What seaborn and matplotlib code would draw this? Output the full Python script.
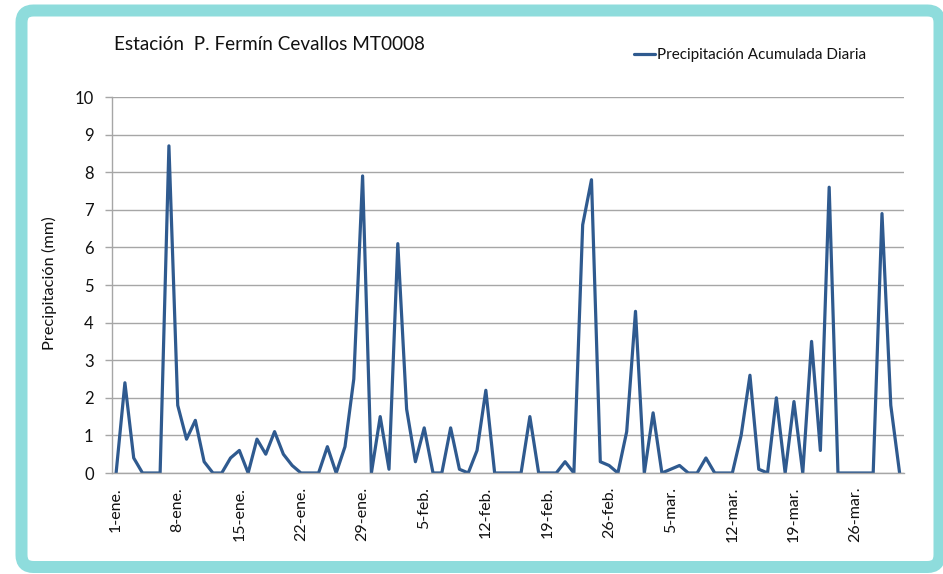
import matplotlib
matplotlib.use("Agg")
import matplotlib.pyplot as plt
from matplotlib.patches import FancyBboxPatch
import seaborn as sns
import pandas as pd
import numpy as np

# Daily accumulated precipitation (mm), 1-ene. to 31-mar. (90 days)
precip_jan = [0, 2.4, 0.4, 0, 0, 0, 8.7, 1.8, 0.9, 1.4,
              0.3, 0, 0, 0.4, 0.6, 0, 0.9, 0.5, 1.1, 0.5,
              0.2, 0, 0, 0, 0.7, 0, 0.7, 2.5, 7.9, 0, 1.5]
precip_feb = [0.1, 6.1, 1.7, 0.3, 1.2, 0, 0, 1.2, 0.1, 0,
              0.6, 2.2, 0, 0, 0, 0, 1.5, 0, 0, 0,
              0.3, 0, 6.6, 7.8, 0.3, 0.2, 0, 1.1]
precip_mar = [4.3, 0, 1.6, 0, 0.1, 0.2, 0, 0, 0.4, 0,
              0, 0, 1.0, 2.6, 0.1, 0, 2.0, 0, 1.9, 0,
              3.5, 0.6, 7.6, 0, 0, 0, 0, 0, 6.9, 1.8, 0]
tick_labels = ["1-ene.", "8-ene.", "15-ene.", "22-ene.", "29-ene.", "5-feb.",
               "12-feb.", "19-feb.", "26-feb.", "5-mar.", "12-mar.", "19-mar.", "26-mar."]
series_name = "Precipitación Acumulada Diaria"
title = "Estación  P. Fermín Cevallos MT0008"
ylabel = "Precipitación (mm)"

values = precip_jan + precip_feb + precip_mar
df = pd.DataFrame({"dia": np.arange(len(values)), "mm": values,
                   "serie": series_name})

sns.set_theme(style="white")
plt.rcParams["font.family"] = ["Lato", "DejaVu Sans"]

W, H = 943, 574
fig = plt.figure(figsize=(W / 100, H / 100), dpi=100)
fig.patch.set_facecolor("white")

left, right, top, bottom = 111.7, 904.0, 97.0, 473.0
ax = fig.add_axes([left / W, 1 - bottom / H, (right - left) / W, (bottom - top) / H])

line_color = "#2F5A8F"
grid_color = "#A6A6A6"
sns.lineplot(data=df, x="dia", y="mm", hue="serie", palette=[line_color],
             linewidth=2.3, ax=ax)

ax.set_xlim(-0.5, len(values) - 0.5)
ax.set_ylim(0, 10)
ax.set_yticks(range(0, 11))
ax.set_yticklabels([str(i) for i in range(0, 11)])
ax.yaxis.grid(True, color=grid_color, linewidth=1.0)
ax.xaxis.grid(False)
ax.set_axisbelow(True)

major = np.arange(0, len(values), 7)[:len(tick_labels)]
ax.set_xticks(major)
ax.set_xticklabels(tick_labels, rotation=90, va="top", ha="center")
ax.set_xticks(major - 0.5, minor=True)
ax.tick_params(axis="x", which="major", length=0, pad=10, labelsize=11.5, labelcolor="#111111")
ax.tick_params(axis="x", which="minor", length=5, width=1, color=grid_color, direction="out")
ax.tick_params(axis="y", which="major", length=5, width=1, color=grid_color,
               direction="out", pad=8, labelsize=12, labelcolor="#111111", left=True)

for s in ["top", "right"]:
    ax.spines[s].set_visible(False)
for s in ["left", "bottom"]:
    ax.spines[s].set_color(grid_color)
    ax.spines[s].set_linewidth(1.0)

ax.set_xlabel("")
ax.set_ylabel("")
fig.text(49 / W, 1 - 283 / H, ylabel, rotation=90, ha="center", va="center",
         fontsize=11.8, color="#111111")
fig.text(114 / W, 1 - 45 / H, title, ha="left", va="center", fontsize=13.6,
         color="#111111")

ax.legend(loc="center left", bbox_to_anchor=(634 / W, 1 - 55 / H),
          bbox_transform=fig.transFigure, frameon=False, handlelength=1.4,
          handletextpad=0.1, borderpad=0, borderaxespad=0, fontsize=11,
          labelcolor="#111111")

# Rounded teal frame around the chart
frame = FancyBboxPatch((21.5, 7.0), 939.5 - 21.5, 563.5 - 7.0,
                       boxstyle="round,pad=0,rounding_size=12",
                       transform=None, fill=False, edgecolor="#8EDCDC",
                       linewidth=12 * 0.72)
fig.add_artist(frame)

fig.savefig("out.png", dpi=100)
